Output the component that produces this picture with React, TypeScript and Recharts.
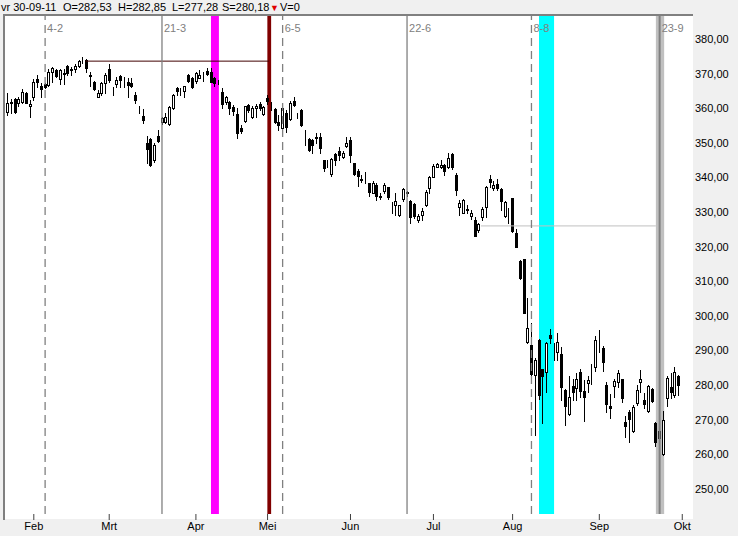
import React from "react";
import { ComposedChart, Bar, XAxis, YAxis, ReferenceLine, ReferenceArea } from "recharts";

// AEX daily candles, 21-01-2011 .. 30-09-2011
const dates = [
  "21-1", "24-1", "25-1", "26-1", "27-1", "28-1", "31-1",
  "1-2", "2-2", "3-2", "4-2", "7-2", "8-2", "9-2", "10-2", "11-2", "14-2", "15-2", "16-2", "17-2", "18-2",
  "21-2", "22-2", "23-2", "24-2", "25-2", "28-2",
  "1-3", "2-3", "3-3", "4-3", "7-3", "8-3", "9-3", "10-3", "11-3", "14-3", "15-3", "16-3", "17-3", "18-3",
  "21-3", "22-3", "23-3", "24-3", "25-3", "28-3", "29-3", "30-3", "31-3",
  "1-4", "4-4", "5-4", "6-4", "7-4", "8-4", "11-4", "12-4", "13-4", "14-4", "15-4", "18-4", "19-4", "20-4",
  "21-4", "26-4", "27-4", "28-4", "29-4",
  "2-5", "3-5", "4-5", "5-5", "6-5", "9-5", "10-5", "11-5", "12-5", "13-5", "16-5", "17-5", "18-5", "19-5",
  "20-5", "23-5", "24-5", "25-5", "26-5", "27-5", "30-5", "31-5",
  "1-6", "2-6", "3-6", "6-6", "7-6", "8-6", "9-6", "10-6", "13-6", "14-6", "15-6", "16-6", "17-6", "20-6",
  "21-6", "22-6", "23-6", "24-6", "27-6", "28-6", "29-6", "30-6",
  "1-7", "4-7", "5-7", "6-7", "7-7", "8-7", "11-7", "12-7", "13-7", "14-7", "15-7", "18-7", "19-7", "20-7",
  "21-7", "22-7", "25-7", "26-7", "27-7", "28-7", "29-7",
  "1-8", "2-8", "3-8", "4-8", "5-8", "8-8", "9-8", "10-8", "11-8", "12-8", "15-8", "16-8", "17-8", "18-8",
  "19-8", "22-8", "23-8", "24-8", "25-8", "26-8", "29-8", "30-8", "31-8",
  "1-9", "2-9", "5-9", "6-9", "7-9", "8-9", "9-9", "12-9", "13-9", "14-9", "15-9", "16-9", "19-9", "20-9",
  "21-9", "22-9", "23-9", "26-9", "27-9", "28-9", "29-9", "30-9",
];

const open = [
  359.0, 361.6, 362.6, 361.4, 361.9, 364.5, 360.5, 363.3, 368.3, 366.4, 367.0, 366.7, 370.6, 370.9, 368.3,
  370.2, 372.2, 371.0, 371.3, 372.3, 374.6, 373.9, 369.5, 367.7, 363.3, 364.3, 367.2, 371.2, 365.2, 366.9,
  369.3, 366.8, 367.5, 367.4, 363.8, 359.6, 357.8, 350.0, 351.0, 345.0, 352.0, 356.1, 356.1, 355.4, 360.0,
  365.7, 365.2, 365.1, 369.6, 368.8, 367.9, 368.8, 369.6, 370.8, 370.4, 368.6, 367.1, 364.6, 361.9, 361.9,
  360.4, 358.2, 354.4, 356.3, 360.9, 357.6, 360.0, 361.2, 358.3, 362.9, 360.9, 359.8, 356.1, 354.2, 358.7,
  356.9, 362.1, 358.0, 359.5, 352.8, 351.1, 350.8, 351.5, 351.7, 344.9, 343.6, 340.9, 346.7, 347.6, 346.0,
  349.2, 350.8, 344.1, 341.9, 339.5, 339.3, 338.3, 335.6, 337.8, 334.5, 336.2, 337.1, 332.7, 331.9, 329.1,
  333.7, 335.4, 333.2, 332.2, 327.7, 329.2, 331.9, 336.9, 340.2, 343.1, 342.9, 343.5, 343.1, 346.8, 340.7,
  331.6, 329.8, 330.8, 328.9, 327.7, 324.8, 328.5, 331.6, 339.5, 337.0, 338.1, 336.7, 328.9, 329.5, 334.0,
  323.9, 315.9, 316.4, 292.6, 291.6, 282.9, 293.0, 284.6, 283.9, 294.5, 291.6, 289.5, 289.0, 278.6, 271.6,
  279.7, 279.1, 283.7, 278.4, 280.7, 283.7, 285.3, 294.3, 290.8, 280.0, 274.0, 279.7, 281.0, 281.7, 269.4,
  272.3, 266.9, 274.9, 281.0, 275.7, 272.6, 278.8, 269.2, 266.8, 260.0, 276.2, 279.6, 277.1, 282.53,
];

const high = [
  364.3, 362.6, 362.9, 363.3, 365.5, 364.8, 362.4, 368.3, 369.6, 367.2, 367.4, 371.2, 371.8, 371.2, 371.3,
  371.2, 372.6, 371.8, 372.8, 373.9, 374.9, 374.1, 370.6, 368.0, 365.3, 367.7, 370.1, 372.8, 366.2, 369.1,
  369.6, 369.1, 368.6, 368.6, 364.8, 360.5, 359.7, 352.0, 351.3, 349.9, 353.7, 357.6, 358.7, 360.5, 364.1,
  366.2, 365.7, 366.5, 369.8, 369.0, 370.4, 371.0, 370.4, 371.5, 371.5, 369.1, 368.2, 365.9, 363.6, 362.1,
  360.9, 360.2, 355.2, 360.7, 361.3, 360.7, 361.1, 361.7, 360.5, 363.8, 361.9, 360.0, 357.9, 360.2, 359.5,
  362.1, 363.3, 358.5, 359.8, 353.7, 351.3, 351.1, 352.7, 352.7, 345.1, 345.0, 345.5, 347.0, 348.9, 347.5,
  351.8, 351.6, 344.3, 342.3, 340.7, 341.5, 338.5, 339.0, 338.3, 335.4, 338.5, 337.3, 333.0, 335.6, 332.1,
  336.9, 336.2, 333.4, 332.5, 329.4, 331.1, 336.4, 340.4, 343.9, 344.3, 345.0, 343.9, 347.2, 347.2, 341.4,
  333.5, 333.7, 332.0, 330.6, 328.5, 326.9, 331.4, 337.5, 340.7, 339.1, 339.5, 336.9, 333.3, 331.1, 334.2,
  325.0, 316.2, 316.5, 305.1, 297.9, 287.8, 293.2, 284.8, 292.6, 296.1, 292.3, 295.0, 291.1, 278.8, 282.6,
  281.7, 283.6, 284.7, 281.5, 282.6, 286.1, 294.2, 295.9, 291.3, 281.0, 277.4, 281.7, 284.4, 281.9, 271.1,
  272.8, 274.3, 280.0, 284.4, 277.6, 280.0, 279.1, 269.4, 267.2, 272.5, 282.6, 283.4, 285.3, 282.85,
];

const low = [
  358.0, 358.5, 358.5, 360.5, 361.4, 361.4, 357.6, 362.4, 366.2, 363.3, 365.7, 366.5, 367.7, 369.1, 367.0,
  367.0, 369.6, 369.6, 370.6, 372.0, 373.0, 370.6, 366.4, 365.3, 363.1, 363.8, 364.5, 367.7, 363.8, 366.2,
  366.2, 366.2, 363.3, 366.0, 361.4, 358.7, 355.8, 344.3, 343.3, 344.6, 350.3, 355.5, 355.6, 355.2, 359.7,
  363.8, 363.8, 363.3, 367.5, 365.7, 367.2, 368.6, 367.9, 369.6, 367.5, 366.5, 366.9, 360.0, 361.1, 358.4,
  358.0, 351.3, 352.7, 356.1, 359.0, 357.3, 357.6, 359.6, 358.0, 361.1, 359.5, 355.6, 353.7, 353.7, 353.0,
  356.6, 360.7, 357.1, 355.0, 349.4, 347.7, 347.0, 349.9, 347.0, 341.9, 343.1, 340.5, 343.6, 345.0, 345.5,
  348.9, 344.6, 340.7, 337.6, 338.8, 338.5, 334.5, 335.4, 333.5, 333.7, 335.6, 333.7, 329.8, 329.1, 329.0,
  333.3, 334.5, 326.9, 328.2, 327.2, 327.7, 331.8, 335.6, 340.0, 342.9, 342.6, 340.7, 342.6, 342.3, 334.9,
  329.1, 329.6, 329.8, 327.9, 323.1, 324.3, 327.7, 328.5, 337.3, 336.4, 336.4, 330.6, 328.5, 326.7, 324.3,
  319.8, 310.7, 300.7, 292.3, 282.9, 265.6, 275.9, 269.0, 278.1, 292.1, 287.3, 287.3, 275.7, 268.5, 271.4,
  275.7, 275.7, 276.7, 269.7, 278.1, 280.2, 284.1, 289.7, 284.2, 272.3, 270.4, 276.7, 279.4, 275.2, 265.1,
  263.7, 266.6, 274.3, 278.1, 273.3, 272.3, 275.2, 262.5, 264.0, 259.8, 274.1, 276.2, 276.5, 277.28,
];

const close = [
  361.4, 361.7, 358.8, 362.6, 364.8, 361.6, 361.1, 367.5, 367.5, 365.5, 366.0, 370.6, 371.5, 369.3, 371.0,
  370.0, 370.1, 371.2, 372.3, 373.6, 374.5, 371.5, 369.2, 365.5, 364.5, 367.2, 369.6, 368.2, 365.4, 368.2,
  368.2, 366.7, 366.7, 366.4, 362.4, 359.4, 356.6, 348.1, 343.6, 349.4, 350.6, 357.1, 357.6, 360.3, 363.8,
  365.1, 365.3, 366.3, 368.0, 366.0, 370.1, 369.6, 369.7, 370.0, 367.7, 367.2, 367.0, 361.1, 363.1, 360.0,
  359.2, 352.7, 353.5, 360.5, 359.4, 360.2, 360.5, 360.0, 360.3, 362.1, 360.8, 356.1, 355.2, 360.0, 354.7,
  361.4, 360.9, 358.1, 355.2, 352.7, 347.9, 349.4, 351.6, 348.6, 342.6, 343.5, 345.3, 345.0, 346.5, 347.0,
  349.9, 346.5, 340.9, 340.4, 339.4, 339.2, 335.9, 338.5, 334.5, 334.4, 337.8, 334.3, 332.6, 333.3, 331.9,
  336.6, 335.9, 328.7, 328.9, 328.9, 330.4, 335.7, 340.0, 343.3, 343.9, 343.6, 342.0, 345.5, 342.9, 336.4,
  332.7, 333.5, 330.7, 329.8, 323.2, 326.5, 330.8, 337.3, 338.6, 337.8, 336.9, 333.3, 332.9, 329.4, 324.6,
  320.0, 310.9, 300.9, 296.4, 283.2, 287.3, 277.2, 282.6, 292.3, 293.7, 291.5, 292.6, 279.6, 274.1, 276.5,
  278.1, 281.7, 278.4, 276.5, 281.5, 283.8, 293.0, 294.2, 286.6, 274.5, 273.3, 281.1, 283.4, 276.2, 268.3,
  270.1, 273.6, 278.6, 281.7, 274.7, 279.8, 275.5, 263.5, 264.6, 269.9, 282.2, 278.1, 283.9, 280.18,
];

const monthTicks = [7, 27, 50, 69, 91, 113, 134, 157, 179];
const monthLabels = ["Feb", "Mrt", "Apr", "Mei", "Jun", "Jul", "Aug", "Sep", "Okt"];
const priceTicks = [250, 260, 270, 280, 290, 300, 310, 320, 330, 340, 350, 360, 370, 380];

// cycle markers (index into dates)
const cycleLines = [
  { i: 10, dashed: true },
  { i: 41, dashed: false },
  { i: 73, dashed: true },
  { i: 106, dashed: false },
  { i: 139, dashed: true },
];

const data = dates.map((d, i) => ({
  i,
  date: d,
  open: open[i],
  high: high[i],
  low: low[i],
  close: close[i],
}));

const FONT = "'Liberation Sans', Arial, sans-serif";
const fmt = (v: number) => v.toFixed(2).replace(".", ",");

const Candle = (props: any) => {
  const { x, y, width, height, payload } = props;
  if (!payload) return null;
  const { open: o, close: c, high: h, low: l } = payload;
  const cx = Math.round(x + width / 2) + 0.5;
  const yTop = Math.min(y, y + height);
  const yBot = Math.max(y, y + height);
  const ratio = h - l > 0 ? (yBot - yTop) / (h - l) : 0;
  const yOf = (v: number) => yTop + (h - v) * ratio;
  const bTop = Math.round(yOf(Math.max(o, c)));
  const bBot = Math.round(yOf(Math.min(o, c)));
  const up = c >= o;
  return (
    <g shapeRendering="crispEdges">
      <line x1={cx} x2={cx} y1={Math.round(yTop)} y2={Math.round(yBot) + 1} stroke="#000" strokeWidth={1} />
      <rect
        x={cx - 1}
        y={bTop + 0.5}
        width={2}
        height={Math.max(0, bBot - bTop)}
        fill={up ? "#fff" : "#000"}
        stroke="#000"
        strokeWidth={1}
      />
    </g>
  );
};

const Tag = (props: any) => {
  const { viewBox, value } = props;
  if (!viewBox) return null;
  return (
    <text x={viewBox.x + 2} y={viewBox.y + 16} fontSize={11} fontFamily={FONT} fill="#808080">
      {value}
    </text>
  );
};

export default function App() {
  return (
    <div style={{ position: "absolute", left: 0, top: 0, width: 738, height: 536, background: "#f0f0f0", overflow: "hidden" }}>
      <div style={{ position: "absolute", left: 5, top: 16, width: 688, height: 503, background: "#fff" }} />
      <div style={{ position: "absolute", left: 3, top: 14, width: 690, height: 2, background: "#808080" }} />
      <div style={{ position: "absolute", left: 3, top: 14, width: 2, height: 506, background: "#808080" }} />

      <div style={{ position: "absolute", top: 1, left: 0, fontFamily: FONT, fontSize: 11, color: "#000", whiteSpace: "nowrap" }}>
        <span style={{ position: "absolute", left: 1 }}>vr 30-09-11</span>
        <span style={{ position: "absolute", left: 63 }}>O={fmt(open[open.length - 1])}</span>
        <span style={{ position: "absolute", left: 118 }}>H={fmt(high[high.length - 1])}</span>
        <span style={{ position: "absolute", left: 172 }}>L={fmt(low[low.length - 1])}</span>
        <span style={{ position: "absolute", left: 222 }}>S={fmt(close[close.length - 1])}</span>
        <span style={{ position: "absolute", left: 270, top: 2, fontSize: 9, color: "#e00000" }}>▼</span>
        <span style={{ position: "absolute", left: 280 }}>V=0</span>
      </div>

      <div style={{ position: "absolute", left: 0, top: 0 }}>
        <ComposedChart width={738} height={536} data={data} margin={{ top: 16, right: 0, bottom: 0, left: 5 }}>
          <XAxis
            dataKey="i"
            type="number"
            domain={[-0.64, 181.85]}
            allowDataOverflow
            ticks={monthTicks}
            tickFormatter={(v: number) => monthLabels[monthTicks.indexOf(v)] ?? ""}
            height={22}
            axisLine={false}
            tickSize={6}
            tickMargin={2}
            tickLine={{ stroke: "#404040" }}
            tick={{ fontSize: 11, fontFamily: FONT, fill: "#000" }}
          />
          <YAxis
            orientation="right"
            type="number"
            domain={[242.78, 386.64]}
            allowDataOverflow
            ticks={priceTicks}
            tickFormatter={fmt}
            width={45}
            axisLine={false}
            tickLine={false}
            tickSize={0}
            tickMargin={2}
            tick={{ fontSize: 11, fontFamily: FONT, fill: "#000", textAnchor: "start" }}
          />

          <ReferenceArea x1={54.0} x2={56.1} fill="#ff00ff" fillOpacity={1} stroke="none" />
          <ReferenceArea x1={68.95} x2={69.95} fill="#800000" fillOpacity={1} stroke="none" />
          <ReferenceArea x1={141.0} x2={145.0} fill="#00ffff" fillOpacity={1} stroke="none" />
          <ReferenceArea x1={172.0} x2={174.2} fill="#c0c0c0" fillOpacity={1} stroke="none" />

          <ReferenceLine
            segment={[{ x: 20.7, y: 373.6 }, { x: 69.4, y: 373.6 }]}
            stroke="#400000"
            strokeWidth={1}
          />
          <ReferenceLine
            segment={[{ x: 125.6, y: 326.0 }, { x: 172.0, y: 326.0 }]}
            stroke="#c0c0c0"
            strokeWidth={1}
          />

          {cycleLines.map((c) => (
            <ReferenceLine
              key={c.i}
              x={c.i}
              stroke="#808080"
              strokeWidth={1.3}
              strokeDasharray={c.dashed ? "8 5" : undefined}
              label={<Tag value={dates[c.i]} />}
            />
          ))}
          <ReferenceLine x={173} stroke="#808080" strokeWidth={2} label={<Tag value={dates[173]} />} />

          <Bar
            dataKey={(d: any) => [d.low, d.high]}
            barSize={3}
            isAnimationActive={false}
            shape={(p: any) => <Candle {...p} />}
          />
        </ComposedChart>
      </div>
    </div>
  );
}
